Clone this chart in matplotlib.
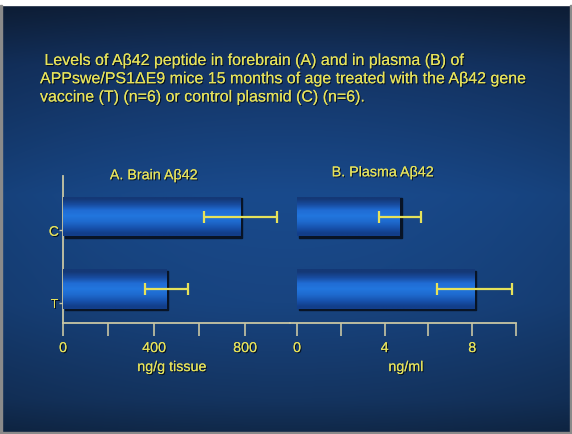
import numpy as np
import matplotlib.pyplot as plt
import matplotlib.patheffects as pe
from matplotlib import transforms
from matplotlib.patches import Rectangle

# data
groups = ['T', 'C']
group_pos = [0, 1]
brain_mean = [455, 780]
brain_err = [95, 160]
plasma_mean = [8.1, 4.7]
plasma_err = [1.7, 0.95]
brain_ticks = [0, 200, 400, 600, 800]
brain_ticklabels = ['0', '', '400', '', '800']
plasma_ticks = [0, 2, 4, 6, 8, 10]
plasma_ticklabels = ['0', '', '4', '', '8', '']

header = (" Levels of A\u03b242 peptide in forebrain (A) and in plasma (B) of\n"
          "APPswe/PS1\u0394E9 mice 15 months of age treated with the A\u03b242 gene\n"
          "vaccine (T) (n=6) or control plasmid (C) (n=6).")

plt.rcParams['font.family'] = ['Liberation Sans', 'DejaVu Sans']

W, H = 572, 435
fig = plt.figure(figsize=(W / 100, H / 100), dpi=100)

yellow = '#e6e25a'
axis_col = '#c8c6a4'
shadow = [pe.withSimplePatchShadow(offset=(0.8, -0.8), shadow_rgbFace='black', alpha=0.7), pe.Normal()]

# slide background: vertical blue gradient
bg = fig.add_axes([0, 0, 1, 1])
bg.set_axis_off()
stops = [0.0, 0.04, 0.15, 0.45, 0.7, 0.92, 1.0]
cols = np.array([[14, 30, 56], [16, 36, 66], [20, 52, 100], [25, 74, 140],
                 [24, 68, 128], [20, 52, 96], [16, 40, 72]]) / 255
t = np.linspace(0, 1, H)
grad = np.stack([np.interp(t, stops, cols[:, c]) for c in range(3)], axis=1)
xs = np.linspace(-1, 1, W)
shade = 1 - 0.12 * xs ** 2
img = grad[:, None, :] * shade[None, :, None]
bg.imshow(img, extent=(0, W, H, 0), aspect='auto')
bg.add_patch(Rectangle((0, 0), W, 6, color='white'))
bg.add_patch(Rectangle((0, 6), 2, H, color='#8a8a8a'))
bg.add_patch(Rectangle((W - 2, 6), 2, H, color='#8a8a8a'))
bg.add_patch(Rectangle((0, H - 2), W, 2, color='#8a8a8a'))
bg.set_xlim(0, W)
bg.set_ylim(H, 0)

fig.text(40 / W, 1 - 54 / H, header, color=yellow, fontsize=11.5, va='top', ha='left',
         linespacing=1.27, path_effects=shadow)

bar_h = 0.55
bar_grad = np.array([[20, 56, 118], [24, 76, 160], [32, 108, 212], [34, 118, 222],
                     [30, 106, 206], [24, 84, 176], [18, 62, 138]]) / 255
bar_img = bar_grad[:, None, :]


def panel(rect, means, errs, xlim, ticks, ticklabels, title, title_xy, xlabel, xlabel_x, show_y):
    ax = fig.add_axes(rect)
    ax.patch.set_alpha(0)
    off = transforms.ScaledTranslation(1.6 / 100, -1.6 / 100, fig.dpi_scale_trans)
    for y, m in zip(group_pos, means):
        ax.add_patch(Rectangle((0, y - bar_h / 2), m, bar_h, color='#081426',
                               transform=ax.transData + off, zorder=1))
    bars = ax.barh(group_pos, means, height=bar_h, color='#1c64c0', zorder=2)
    for b in bars:
        x0, y0 = b.get_x(), b.get_y()
        im = ax.imshow(bar_img, extent=(x0, x0 + b.get_width(), y0, y0 + b.get_height()),
                       aspect='auto', zorder=3, interpolation='bilinear')
        im.set_clip_path(b)
    ax.errorbar(means, group_pos, xerr=errs, fmt='none', ecolor=yellow, elinewidth=1.6,
                capsize=4.5, capthick=1.6, zorder=4)
    ax.set_xlim(*xlim)
    ax.set_ylim(-0.47, 1.56)
    ax.set_xticks(ticks)
    ax.set_xticklabels(ticklabels)
    ax.tick_params(axis='x', direction='out', length=9.5, width=1.2, color=axis_col,
                   labelcolor=yellow, labelsize=10.3, pad=3.5)
    for s in ['top', 'right']:
        ax.spines[s].set_visible(False)
    ax.spines['bottom'].set_color(axis_col)
    ax.spines['bottom'].set_linewidth(1.3)
    if show_y:
        ax.spines['left'].set_color(axis_col)
        ax.spines['left'].set_linewidth(1.3)
        ax.set_yticks([p - 0.19 for p in group_pos])
        ax.set_yticklabels(groups)
        ax.tick_params(axis='y', length=3, width=1.0, color=axis_col, labelcolor=yellow,
                       labelsize=10, pad=0)
    else:
        ax.spines['left'].set_visible(False)
        ax.set_yticks([])
    for lab in ax.get_xticklabels() + ax.get_yticklabels():
        lab.set_path_effects(shadow)
    ax.text(title_xy[0], title_xy[1], title, transform=ax.transAxes, color=yellow,
            fontsize=10.3, ha='center', va='center', path_effects=shadow)
    ax.text(xlabel_x, -0.3, xlabel, transform=ax.transAxes, color=yellow,
            fontsize=10.3, ha='center', va='center', path_effects=shadow)
    return ax


ybot = 1 - 324 / H
yh = (324 - 177) / H
panel([63 / W, ybot, (290 - 63) / W, yh], brain_mean, brain_err, (0, 998),
      brain_ticks, brain_ticklabels, 'A. Brain A\u03b242', (0.40, 1.005),
      'ng/g tissue', 0.48, True)
panel([290 / W, ybot, (516 - 290) / W, yh], plasma_mean, plasma_err, (-0.32, 10.0),
      plasma_ticks, plasma_ticklabels, 'B. Plasma A\u03b242', (0.41, 1.025),
      'ng/ml', 0.513, False)

fig.savefig('out.png', dpi=100)
